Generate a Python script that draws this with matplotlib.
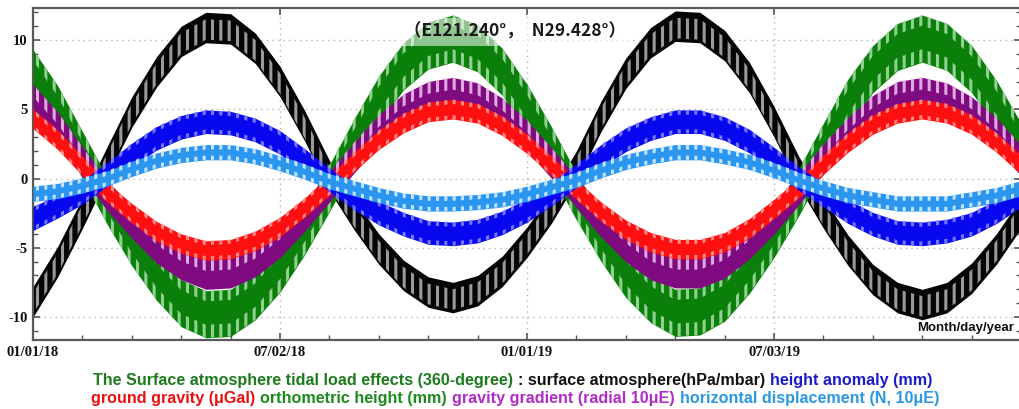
import numpy as np
import matplotlib
matplotlib.use('Agg')
import matplotlib.pyplot as plt
from matplotlib.ticker import MultipleLocator

# Surface atmosphere tidal load effects at (E121.240, N29.428)
# band centres every 0.05 year, 01/01/18 .. 01/01/20
years = np.linspace(2018.0, 2020.0, 41)

surface_atmosphere = [-8.9, -6.0, -2.5, 1.2, 4.8, 7.7, 9.9, 10.9, 10.8, 9.4,
                      7.0, 3.8, 0.2, -2.6, -5.1, -7.0, -8.2, -8.6, -8.1, -6.7,
                      -4.6, -2.1, 0.9, 4.5, 7.6, 9.8, 11.0, 10.9, 9.6, 7.3,
                      4.1, 0.5, -2.5, -5.2, -7.3, -8.6, -9.1, -8.6, -7.2, -5.1, -2.5]
orthometric_height = [7.6, 5.0, 1.7, -1.6, -4.6, -7.1, -9.0, -9.8, -9.7, -8.5,
                      -6.5, -3.8, -0.7, 2.6, 5.7, 8.1, 9.6, 10.1, 9.4, 7.7,
                      5.1, 2.0, -1.3, -4.3, -6.9, -8.7, -9.7, -9.6, -8.6, -6.6,
                      -4.0, -1.0, 2.3, 5.5, 7.9, 9.5, 10.1, 9.5, 7.9, 5.4, 2.3]
gravity_gradient = [5.7, 3.7, 1.2, -1.2, -3.2, -5.0, -6.2, -6.9, -6.8, -6.0,
                    -4.6, -2.7, -0.6, 1.5, 3.5, 5.0, 5.9, 6.2, 5.8, 4.7,
                    3.1, 1.1, -1.0, -3.1, -4.9, -6.2, -6.8, -6.8, -6.1, -4.7,
                    -2.9, -0.8, 1.4, 3.3, 4.9, 5.9, 6.2, 5.8, 4.8, 3.3, 1.3]
ground_gravity = [4.3, 2.8, 0.9, -1.0, -2.5, -3.8, -4.7, -5.2, -5.1, -4.5,
                  -3.5, -2.1, -0.5, 1.2, 2.8, 4.0, 4.8, 5.0, 4.7, 3.8,
                  2.5, 0.9, -0.8, -2.4, -3.7, -4.6, -5.1, -5.1, -4.6, -3.6,
                  -2.2, -0.7, 1.0, 2.6, 3.9, 4.7, 5.0, 4.7, 3.9, 2.6, 1.0]
height_anomaly = [-2.9, -2.0, -1.0, 0.3, 1.7, 2.9, 3.7, 4.1, 4.0, 3.5,
                  2.6, 1.3, -0.1, -1.4, -2.5, -3.3, -3.9, -4.0, -3.8, -3.2,
                  -2.3, -1.1, 0.2, 1.6, 2.8, 3.6, 4.1, 4.1, 3.6, 2.7,
                  1.4, 0.0, -1.2, -2.4, -3.3, -3.9, -4.0, -3.8, -3.3, -2.4, -1.2]
horizontal_disp = [-1.1, -0.9, -0.5, 0.0, 0.7, 1.3, 1.7, 1.9, 1.9, 1.6,
                   1.1, 0.5, -0.2, -0.7, -1.2, -1.6, -1.8, -1.8, -1.7, -1.5,
                   -1.1, -0.6, -0.1, 0.6, 1.2, 1.6, 1.9, 1.9, 1.6, 1.2,
                   0.6, -0.1, -0.7, -1.2, -1.5, -1.8, -1.8, -1.8, -1.5, -1.2, -0.7]

# half thickness of the short-period (tidal) oscillation band
half_width = {'black': 1.1, 'green': 1.7, 'purple': 1.1, 'red': 0.7, 'blue': 0.85, 'lightblue': 0.55}

tick_pos = [2018.0, 2018.5, 2019.0, 2019.5]
tick_lab = ['01/01/18', '07/02/18', '01/01/19', '07/03/19']

plt.rcParams['hatch.linewidth'] = 2.2

fig = plt.figure(figsize=(10.19, 4.09), dpi=100)
ax = fig.add_axes([0.0324, 0.1687, 0.9696, 0.8117])


def band(vals, half, color, stripe, z, parts):
    v = np.asarray(vals)
    ax.fill_between(years, v - half, v + half, color=color, lw=0, zorder=z)
    # light stripes that stand for the aliased daily oscillation
    for lo, hi in parts:
        ax.fill_between(years, v + lo * half, v + hi * half, facecolor='none',
                        edgecolor=stripe, hatch='||', lw=0, zorder=z + 0.1)


band(surface_atmosphere, half_width['black'], '#050505', '#9a9a9a', 2, [(-0.8, 0.55)])
band(orthometric_height, half_width['green'], '#0a800a', '#92d092', 3, [(-1.0, -0.45), (0.55, 1.0)])
band(gravity_gradient, half_width['purple'], '#800a80', '#dcaadc', 4, [(0.2, 1.0)])
band(ground_gravity, half_width['red'], '#ff1010', '#ff8a8a', 5, [(0.55, 1.0), (-1.0, -0.6)])
band(height_anomaly, half_width['blue'], '#0808f0', '#7878ff', 6, [(0.6, 1.0), (-1.0, -0.65)])
band(horizontal_disp, half_width['lightblue'], '#2a96f0', '#c4e2ff', 7, [(0.35, 1.0), (-1.0, -0.45)])

ax.set_xlim(2018.0, 2020.0)
ax.set_ylim(-11.66, 12.31)
ax.set_xticks(tick_pos)
ax.set_xticklabels(tick_lab)
ax.xaxis.set_minor_locator(MultipleLocator(0.1))
ax.set_yticks([-10, -5, 0, 5, 10])
ax.set_yticklabels(['-10', '-5', '0', '5', '10'])
ax.yaxis.set_minor_locator(MultipleLocator(1))

ax.grid(True, which='major', color='#b4b4b4', linestyle=(0, (1, 3)), lw=1.0)
ax.set_axisbelow(True)
ax.tick_params(which='both', direction='in', top=True, right=True, colors='#555555')
ax.tick_params(which='major', length=5, width=1.2, pad=4, labelcolor='#111111', labelsize=10.5)
ax.tick_params(which='minor', length=3.5, width=1.0)
ax.tick_params(axis='x', which='minor', top=False)
for lab in ax.get_xticklabels() + ax.get_yticklabels():
    lab.set_family('Liberation Serif')
    lab.set_fontweight('bold')
for sp in ax.spines.values():
    sp.set_color('#5a5a5a')
    sp.set_linewidth(1.6)

ax.text(0.505, 0.922, '（E121.240°，  N29.428°）', transform=fig.transFigure,
        ha='center', va='center', fontsize=12.5, fontweight='bold', color='#1a1a1a',
        family=['Noto Sans CJK SC', 'DejaVu Sans'], zorder=20,
        bbox=dict(boxstyle='square,pad=0.3', fc='white', ec='none', alpha=0.55))
ax.text(0.993, 0.035, 'Month/day/year', transform=ax.transAxes, ha='right', va='center',
        fontsize=9.5, fontweight='bold', family='Liberation Sans', color='#111111', zorder=20)

# two caption lines, each made of coloured pieces
line1 = [('The Surface atmosphere tidal load effects (360-degree)', '#1d7a1d'),
         (': surface atmosphere(hPa/mbar)', '#111111'),
         ('height anomaly (mm)', '#1c1cc8')]
line2 = [('ground gravity (μGal)', '#e81010'),
         ('orthometric height (mm)', '#1c8a1c'),
         ('gravity gradient (radial 10μE)', '#b02cc8'),
         ('horizontal displacement (N, 10μE)', '#2c98e0')]


def caption(parts, y, xc, size=11.6, gap=5):
    r = fig.canvas.get_renderer()
    W = fig.bbox.width
    items = []
    for s, c in parts:
        t = fig.text(0, y, s, color=c, fontsize=size, fontweight='bold',
                     family='Liberation Sans', va='center', ha='left')
        items.append((t, t.get_window_extent(r).width))
    total = sum(w for _, w in items) + gap * (len(items) - 1)
    x = xc - total / 2
    for t, w in items:
        t.set_x(x / W)
        x += w + gap


caption(line1, 1 - 380 / 409, 513)
caption(line2, 1 - 398 / 409, 515)

fig.savefig('out.png', dpi=100)
